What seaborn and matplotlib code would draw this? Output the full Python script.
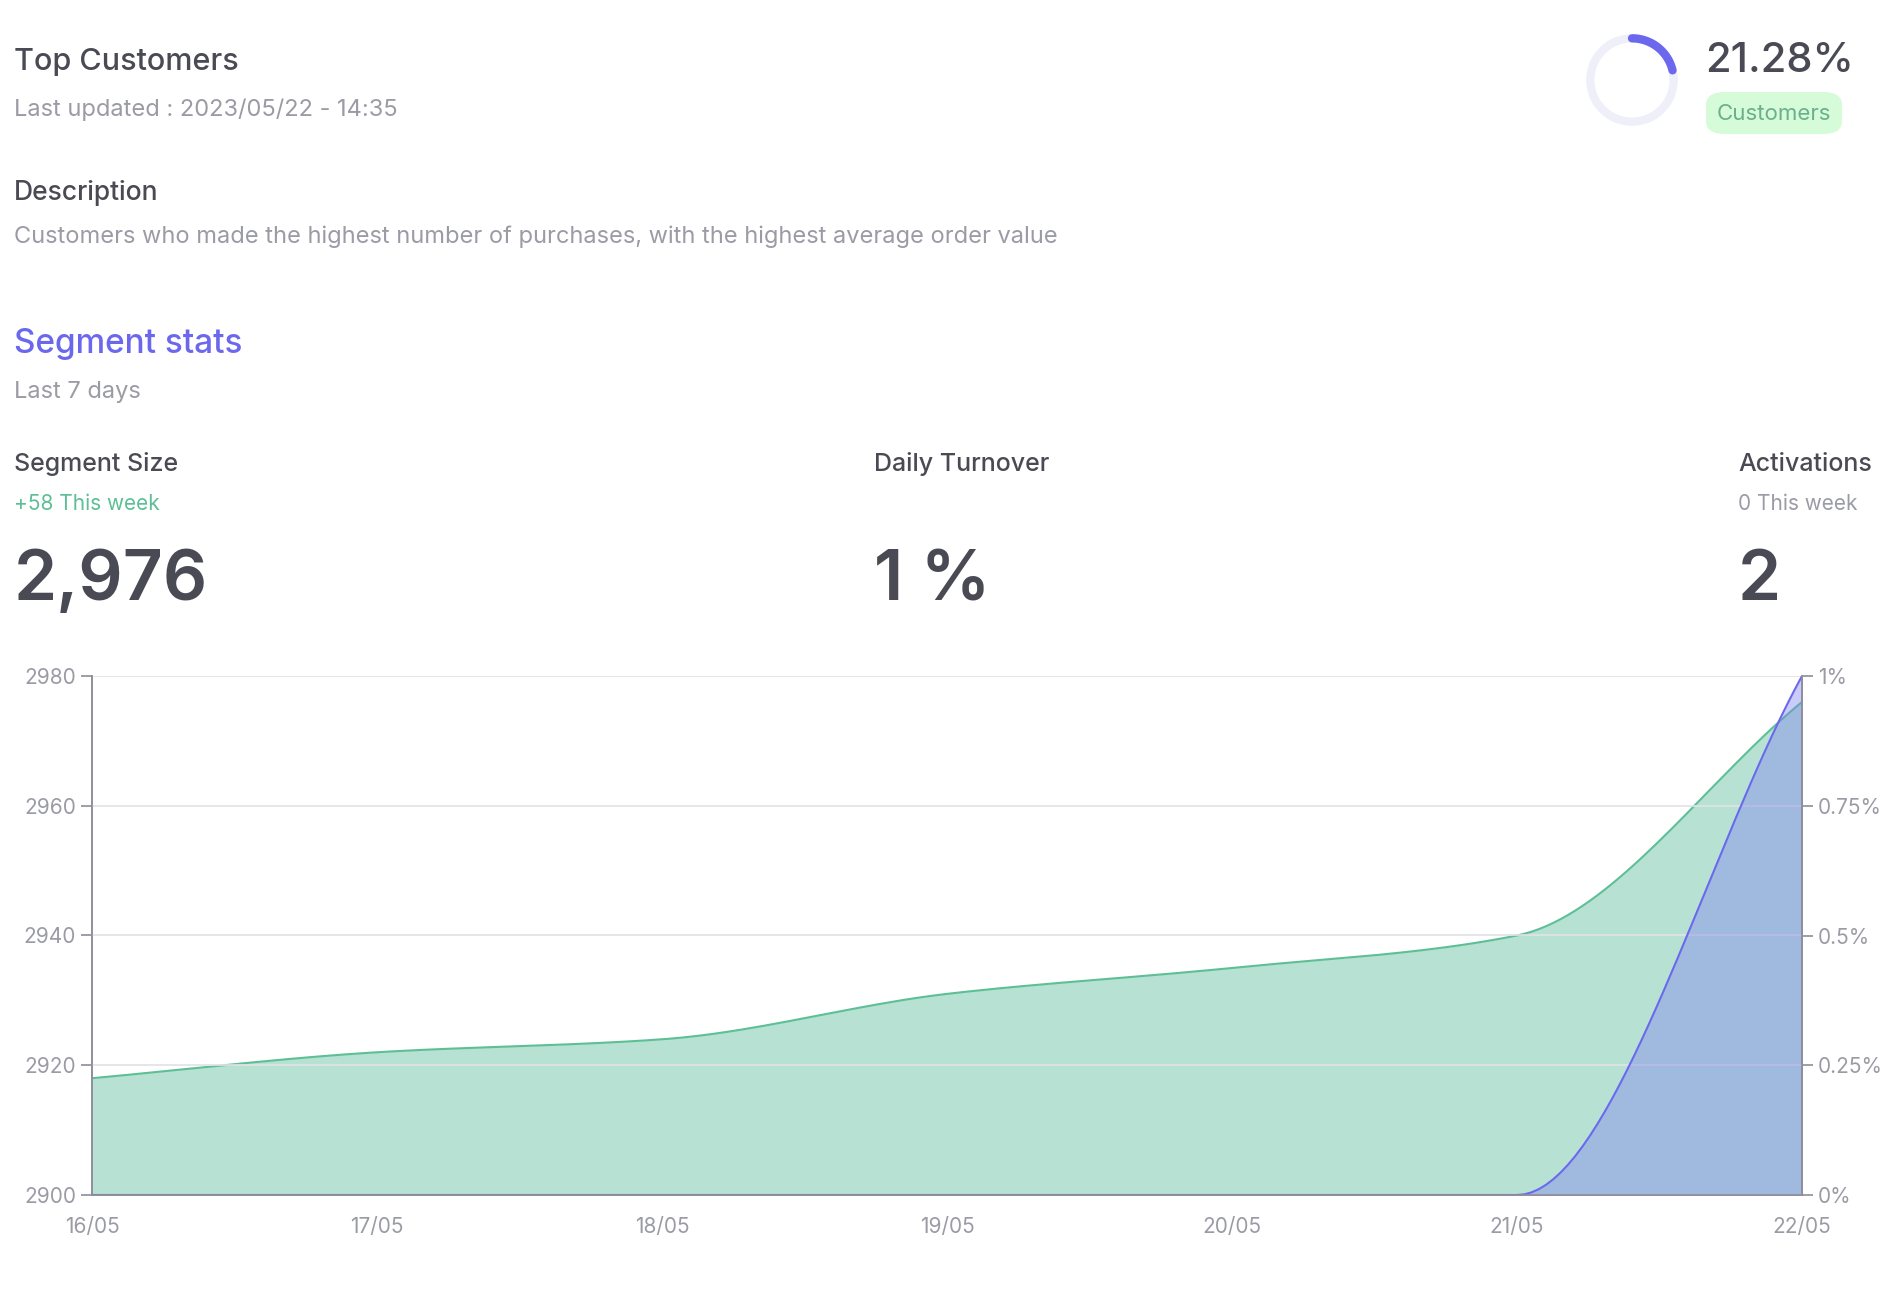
import numpy as np
import pandas as pd
import matplotlib
matplotlib.use("Agg")
import matplotlib.pyplot as plt
from matplotlib.patches import FancyBboxPatch
import seaborn as sns

# data
days = ["16/05", "17/05", "18/05", "19/05", "20/05", "21/05", "22/05"]
segment_size = [2918, 2922, 2924, 2931, 2935, 2940, 2976]
turnover = [0, 0, 0, 0, 0, 0, 1]
customers_pct = 21.28

DARK = "#4a4a55"
GREY = "#9b9ba6"
GREEN = "#5cbf95"
BLUE = "#6b68ee"
W, H = 1890, 1296


def monotone(x, y, n=40):
    # Fritsch-Carlson monotone cubic, used only to draw a smooth line
    x = np.asarray(x, float)
    y = np.asarray(y, float)
    d = np.diff(y) / np.diff(x)
    m = np.zeros_like(y)
    m[0], m[-1] = d[0], d[-1]
    for i in range(1, len(y) - 1):
        m[i] = 0 if d[i - 1] * d[i] <= 0 else 2 / (1 / d[i - 1] + 1 / d[i])
    xs, ys = [], []
    for i in range(len(x) - 1):
        h = x[i + 1] - x[i]
        t = np.linspace(0, 1, n)
        h00 = 2 * t**3 - 3 * t**2 + 1
        h10 = t**3 - 2 * t**2 + t
        h01 = -2 * t**3 + 3 * t**2
        h11 = t**3 - t**2
        xs.append(x[i] + t * h)
        ys.append(h00 * y[i] + h10 * h * m[i] + h01 * y[i + 1] + h11 * h * m[i + 1])
    return np.concatenate(xs), np.concatenate(ys)


def ftext(x, y, s, **kw):
    fig.text(x / W, 1 - y / H, s, va="baseline", **kw)


sns.set_theme(style="white", font="Inter")
fig = plt.figure(figsize=(18.9, 12.96), dpi=100)

# header texts
ftext(14, 70, "Top Customers", fontsize=22, color=DARK, fontweight="medium")
ftext(14, 116, "Last updated : 2023/05/22 - 14:35", fontsize=17, color=GREY)
ftext(14, 200, "Description", fontsize=19, color=DARK, fontweight="medium")
ftext(14, 243, "Customers who made the highest number of purchases, with the highest average order value",
      fontsize=17, color=GREY)
ftext(14, 353, "Segment stats", fontsize=24, color=BLUE, fontweight="medium")
ftext(14, 398, "Last 7 days", fontsize=17, color=GREY)

for x, title, sub, subc, big in [
    (14, "Segment Size", "+58 This week", GREEN, "2,976"),
    (874, "Daily Turnover", None, None, "1 %"),
    (1738, "Activations", "0 This week", GREY, "2"),
]:
    ftext(x, 471, title, fontsize=18, color=DARK, fontweight="medium")
    if sub:
        ftext(x, 510, sub, fontsize=15, color=subc)
    ftext(x, 600, big, fontsize=50, color=DARK, fontweight="semibold")

# donut
dax = fig.add_axes([(1632 - 50) / W, 1 - (80 + 50) / H, 100 / W, 100 / H])
dax.set_aspect("equal")
dax.axis("off")
th = np.linspace(0, 2 * np.pi, 200)
dax.plot(np.cos(th), np.sin(th), color="#efeffa", lw=6)
th2 = np.linspace(np.pi / 2, np.pi / 2 - 2 * np.pi * customers_pct / 100, 60)
dax.plot(np.cos(th2), np.sin(th2), color=BLUE, lw=6, solid_capstyle="round")
dax.set_xlim(-1.2, 1.2)
dax.set_ylim(-1.2, 1.2)
ftext(1705, 72, f"{customers_pct:.2f}%", fontsize=30, color=DARK, fontweight="medium")
fig.patches.append(FancyBboxPatch((1706 / W, 1 - 134 / H), 136 / W, 42 / H,
                                  boxstyle="round,pad=0,rounding_size=0.01",
                                  transform=fig.transFigure, fc="#d5fbd8", ec="none"))
ftext(1774, 120, "Customers", fontsize=16, color="#6aaf8e", ha="center")

# chart
df = pd.DataFrame({"day": days, "size": segment_size, "turnover": turnover})
df["x"] = np.arange(len(df))
ax = fig.add_axes([92 / W, 1 - 1195 / H, (1802 - 92) / W, (1195 - 676) / H])
xs, ys = monotone(df["x"], df["size"])
ax.fill_between(xs, 2900, ys, color="#b7e2d3", lw=0)
sns.lineplot(x=xs, y=ys, ax=ax, color=GREEN, lw=1.5)
ax.set_ylim(2900, 2980)
ax.set_xlim(0, len(days) - 1)
ax.set_yticks([2900, 2920, 2940, 2960, 2980])
ax.set_xticks(df["x"])
ax.set_xticklabels(df["day"])
ax.grid(axis="y", color="#e2e2e6", lw=1.2)
ax.set_axisbelow(False)

ax2 = ax.twinx()
xb, yb = monotone(df["x"], df["turnover"])
yb = np.clip(yb, 0, None)
ax2.fill_between(xb, 0, yb, color="#7f7ff2", alpha=0.4, lw=0)
sns.lineplot(x=xb, y=yb, ax=ax2, color=BLUE, lw=1.5)
ax2.set_ylim(0, 1)
ax2.set_yticks([0, 0.25, 0.5, 0.75, 1])
ax2.set_yticklabels(["0%", "0.25%", "0.5%", "0.75%", "1%"])
ax2.set_xlim(0, len(days) - 1)

for a in (ax, ax2):
    for s in a.spines.values():
        s.set_color("#8e8e99")
        s.set_linewidth(1.2)
    a.spines["top"].set_visible(False)
    a.tick_params(colors="#8e8e99", labelcolor=GREY, labelsize=15, length=8, width=1.2, direction="out")
    a.set_xlabel("")
    a.set_ylabel("")
ax.tick_params(axis="x", pad=8)

fig.savefig("out.png", dpi=100)
